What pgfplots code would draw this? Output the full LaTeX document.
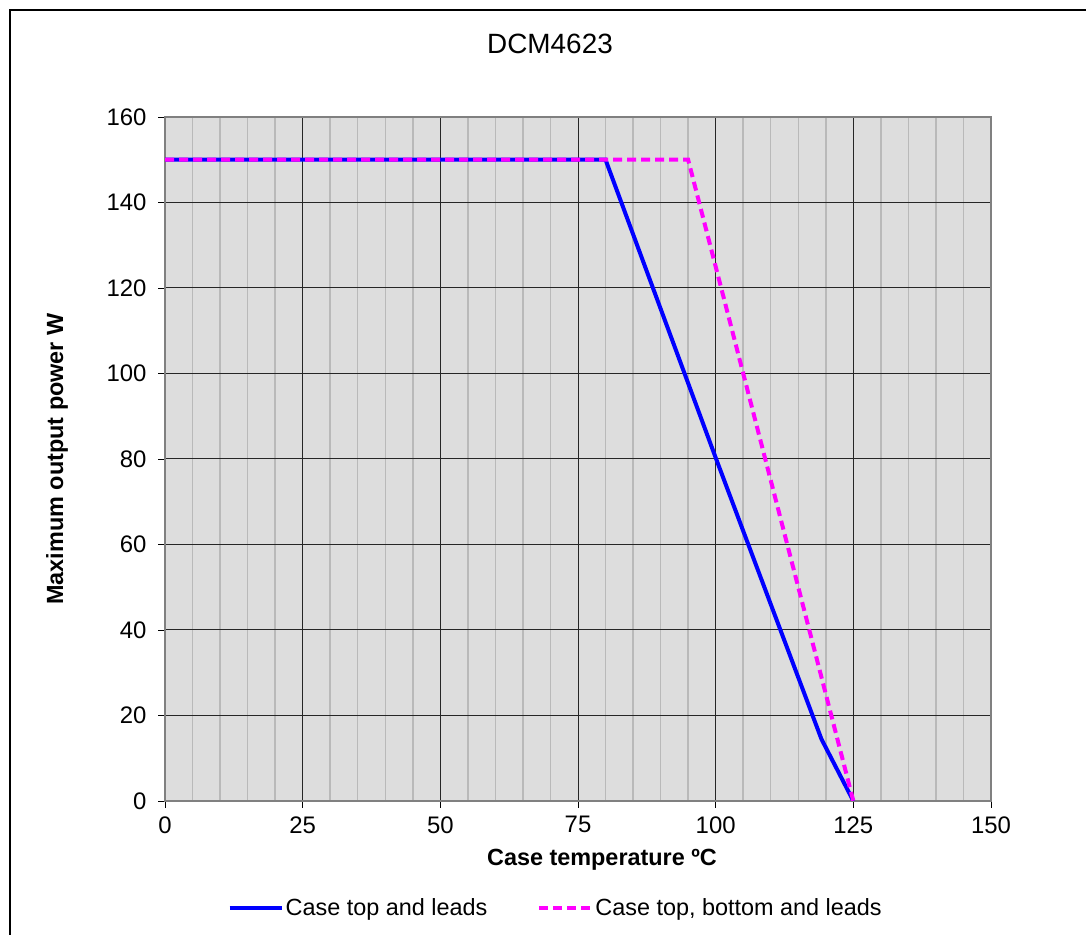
\documentclass[border=0pt]{standalone}
\usepackage{pgfplots}
\pgfplotsset{compat=1.18}
\usepackage{fontspec}
\setmainfont{Liberation Sans}
\definecolor{bggray}{RGB}{221,221,221}
\definecolor{minorgray}{RGB}{185,185,185}
\definecolor{axgray}{RGB}{128,128,128}
\definecolor{myblue}{RGB}{0,0,255}
\definecolor{mymag}{RGB}{255,0,255}
\begin{document}
\begin{tikzpicture}[x=1bp,y=1bp]
\useasboundingbox (0,0) rectangle (1086,935);
\draw[line width=1.5bp] (10,-5) -- (10,925) -- (1095,925);
\node[font=\fontsize{28}{32}\selectfont] at (550,891) {DCM4623};
\begin{axis}[
  at={(165bp,134bp)}, anchor=south west,
  width=826bp, height=684bp, scale only axis,
  xmin=0, xmax=150, ymin=0, ymax=160,
  xtick={0,25,...,150}, ytick={0,20,...,160},
  minor x tick num=4, minor tick length=0pt,
  xmajorgrids, ymajorgrids, xminorgrids,
  major grid style={black!85, line width=1bp},
  minor grid style={minorgray, line width=1.5bp},
  axis background/.style={fill=bggray},
  axis line style={axgray, line width=1.6bp},
  tick style={black, line width=0.9bp},
  tick align=outside, major tick length=7bp,
  xtick pos=bottom, ytick pos=left,
  /pgf/number format/assume math mode=true,
  ticklabel style={font=\fontsize{24}{28}\selectfont},
  xticklabel style={yshift=-5bp},
  yticklabel style={xshift=-8bp},
  legend style={at={(0.473,-0.156)}, anchor=center, draw=none, fill=none,
    font=\fontsize{23.5}{27}\selectfont, legend columns=2,
    /tikz/every even column/.append style={column sep=48bp}},
  legend image code/.code={\draw[#1] (0bp,0bp) -- (52bp,0bp);},
]
\addplot[myblue, line width=4bp] coordinates {(0,150) (80,150) (100,80.3) (119.2,14.5) (125,0)};
\addlegendentry{Case top and leads}
\addplot[mymag, line width=4bp, dash pattern=on 9bp off 5bp] coordinates {(0,150) (95,150) (125,0)};
\addlegendentry{Case top, bottom and leads}
\end{axis}
\node[font=\bfseries\fontsize{23.5}{27}\selectfont] at (602,75) {Case temperature ºC};
\node[font=\bfseries\fontsize{23.5}{27}\selectfont, rotate=90] at (57,476) {Maximum output power W};
\end{tikzpicture}
\end{document}
